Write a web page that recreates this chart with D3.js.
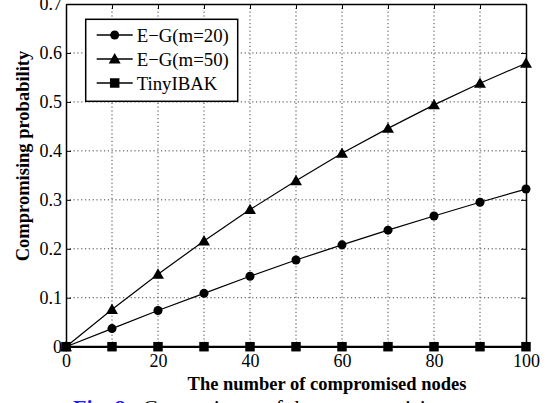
<!DOCTYPE html>
<html>
<head>
<meta charset="utf-8">
<script src="https://cdn.jsdelivr.net/npm/d3@7"></script>
<style>
  body { margin: 0; background: #fff; }
  svg { display: block; }
</style>
</head>
<body>
<div class="canvas"></div>
<script>
// DATA
const nodes = [0, 10, 20, 30, 40, 50, 60, 70, 80, 90, 100];
const egM20 = [0, 0.037, 0.074, 0.109, 0.144, 0.177, 0.208, 0.238, 0.267, 0.295, 0.322];
const egM50 = [0, 0.076, 0.148, 0.216, 0.280, 0.339, 0.395, 0.446, 0.494, 0.538, 0.579];
const tinyIBAK = [0, 0, 0, 0, 0, 0, 0, 0, 0, 0, 0];
const seriesNames = ["E\u2212G(m=20)", "E\u2212G(m=50)", "TinyIBAK"];
const xTickLabels = [0, 20, 40, 60, 80, 100];
const yTicks = [0, 0.1, 0.2, 0.3, 0.4, 0.5, 0.6, 0.7];

const FONT = '"Liberation Serif"';

// Dimensions
const W = 548, H = 403;
const margins = {top: 4, right: 22, bottom: 56.3, left: 66};
const width = W - margins.left - margins.right;
const height = H - margins.top - margins.bottom;

const svg = d3.select(".canvas")
  .append("svg")
  .attr("width", W)
  .attr("height", H)
  .style("font-family", FONT);

const canvas = svg.append("g")
  .attr("transform", `translate(${margins.left},${margins.top})`);

// SCALES
const xScale = d3.scaleLinear().domain([0, 100]).range([0, width]);
const yScale = d3.scaleLinear().domain([0, 0.7]).range([height, 0]);

// GRID (dotted)
const grid = canvas.append("g").attr("stroke", "#444").attr("stroke-width", 1)
  .attr("stroke-dasharray", "1.2,2.6");
grid.selectAll(".gx").data(nodes.filter(d => d > 0 && d < 100)).enter()
  .append("line")
  .attr("x1", d => xScale(d)).attr("x2", d => xScale(d))
  .attr("y1", 0).attr("y2", height);
grid.selectAll(".gy").data(yTicks.filter(d => d > 0 && d < 0.7)).enter()
  .append("line")
  .attr("x1", 0).attr("x2", width)
  .attr("y1", d => yScale(d)).attr("y2", d => yScale(d));

// AXES (ticks inward, box all round)
const xAxis = canvas.append("g")
  .attr("transform", `translate(0,${height})`)
  .call(d3.axisBottom(xScale).tickValues(nodes).tickSizeInner(-5).tickSizeOuter(0)
    .tickPadding(8).tickFormat(d => xTickLabels.includes(d) ? d : ""));
const xTop = canvas.append("g")
  .call(d3.axisTop(xScale).tickValues(nodes).tickSizeInner(-5).tickSizeOuter(0).tickFormat(""));
const yAxis = canvas.append("g")
  .call(d3.axisLeft(yScale).tickValues(yTicks).tickSizeInner(-5).tickSizeOuter(0)
    .tickPadding(4).tickFormat(d => d === 0 ? "0" : d3.format(".1f")(d)));
const yRight = canvas.append("g")
  .attr("transform", `translate(${width},0)`)
  .call(d3.axisRight(yScale).tickValues(yTicks).tickSizeInner(-5).tickSizeOuter(0).tickFormat(""));

[xAxis, xTop, yAxis, yRight].forEach(a => {
  a.attr("font-family", FONT).attr("font-size", 18);
  a.select(".domain").attr("stroke", "#000").attr("stroke-width", 1.5);
  a.selectAll(".tick line").attr("stroke", "#000").attr("stroke-width", 1);
  a.selectAll("text").attr("fill", "#000")
    .style("font-family", FONT).style("font-size", "18px");
});

// LINES
const series = [
  {name: seriesNames[0], values: egM20, marker: "circle"},
  {name: seriesNames[1], values: egM50, marker: "triangle"},
  {name: seriesNames[2], values: tinyIBAK, marker: "square"},
];
const symbolOf = {
  circle: d3.symbol().type(d3.symbolCircle).size(64),
  triangle: d3.symbol().type(d3.symbolTriangle).size(62),
  square: d3.symbol().type(d3.symbolSquare).size(90),
};

const line = d3.line().x(d => xScale(d[0])).y(d => yScale(d[1]));

series.forEach(s => {
  const pts = nodes.map((n, i) => [n, s.values[i]]);
  canvas.append("path")
    .datum(pts)
    .attr("d", line)
    .attr("fill", "none")
    .attr("stroke", "#000")
    .attr("stroke-width", s.marker === "square" ? 2 : 1.2);
  canvas.selectAll(".m-" + s.marker)
    .data(pts)
    .enter()
    .append("path")
    .attr("d", symbolOf[s.marker])
    .attr("transform", d => `translate(${xScale(d[0])},${yScale(d[1]) + (s.marker === "triangle" ? 1 : 0)})`)
    .attr("fill", "#000");
});

// LEGEND
const legend = canvas.append("g").attr("transform", "translate(19.7,15.3)");
legend.append("rect")
  .attr("width", 152).attr("height", 82)
  .attr("fill", "#fff").attr("stroke", "#000").attr("stroke-width", 1.5);
series.forEach((s, i) => {
  const y = 15.7 + i * 24;
  const row = legend.append("g").attr("transform", `translate(0,${y})`);
  row.append("line").attr("x1", 11).attr("x2", 47).attr("y1", 0).attr("y2", 0)
    .attr("stroke", "#000").attr("stroke-width", 1.5);
  row.append("path").attr("d", symbolOf[s.marker]).attr("transform", `translate(29,${s.marker === "triangle" ? 1 : 0})`)
    .attr("fill", "#000");
  row.append("text").attr("x", 51).attr("y", 6.5).text(s.name)
    .style("font-family", FONT).style("font-size", "18.8px").attr("fill", "#000");
});

// AXIS TITLES
svg.append("text")
  .attr("x", 327)
  .attr("y", 390)
  .attr("text-anchor", "middle")
  .style("font-family", FONT)
  .style("font-size", "18.5px").style("font-weight", "bold")
  .text("The number of compromised nodes");

svg.append("text")
  .attr("transform", "translate(29,156) rotate(-90)")
  .attr("text-anchor", "middle")
  .style("font-family", FONT)
  .style("font-size", "18.5px").style("font-weight", "bold")
  .text("Compromising probability");

// caption (cut off at the bottom edge, as in the source)
const cap = svg.append("text").attr("x", 73).attr("y", 415)
  .style("font-family", FONT).style("font-size", "22px");
cap.append("tspan").attr("fill", "#1a1aff").style("font-weight", "bold").text("Fig. 8:");
cap.append("tspan").attr("dx", 10).attr("fill", "#000").text("Comparisons of the compromising");
</script>
</body>
</html>
